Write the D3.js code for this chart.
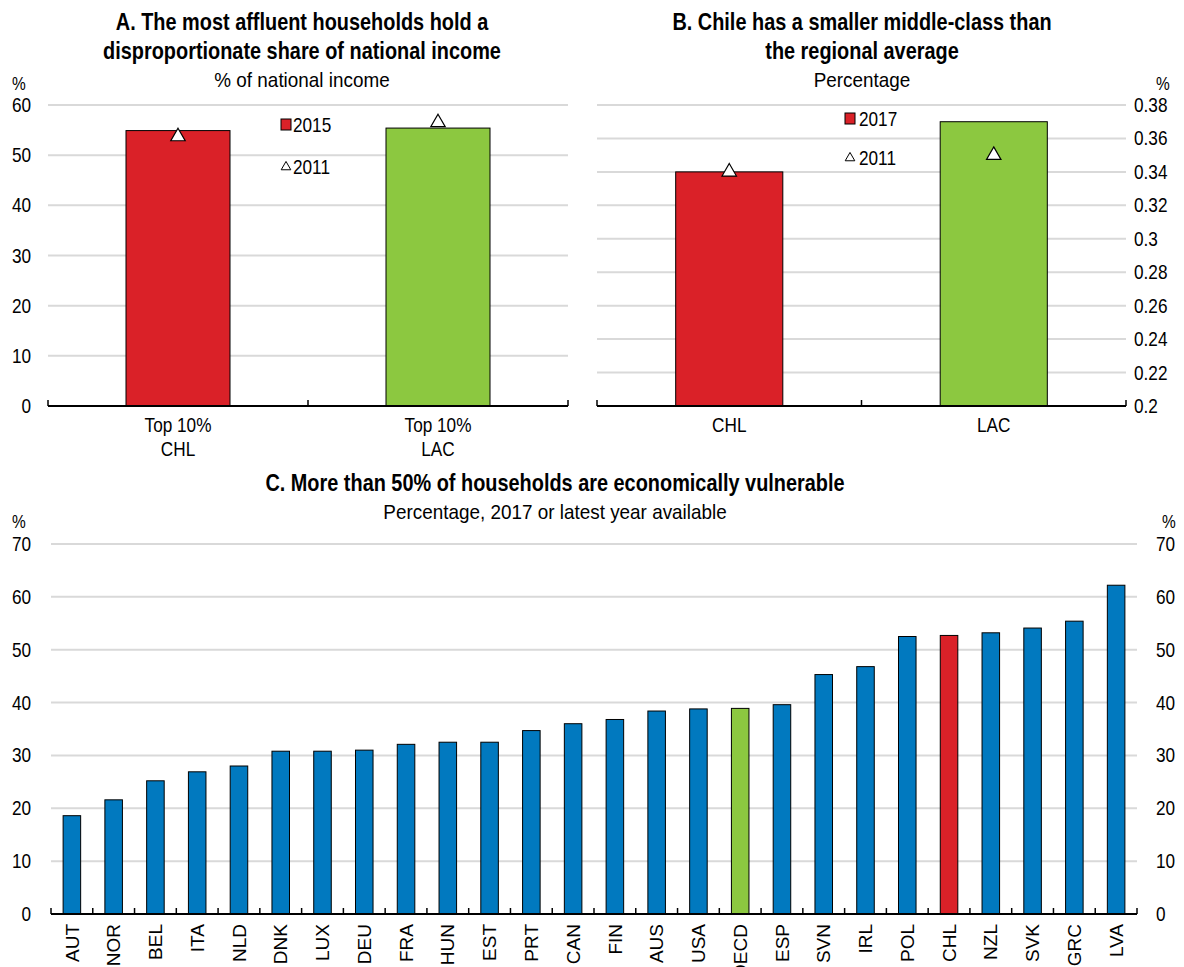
<!DOCTYPE html>
<html>
<head>
<meta charset="utf-8">
<script src="https://cdn.jsdelivr.net/npm/d3@7"></script>
<style>
  html, body { margin: 0; padding: 0; background: #fff; }
  svg text { font-family: "Liberation Sans Narrow", "Arial Narrow", "Liberation Sans", Arial, sans-serif; fill: #000; }
</style>
</head>
<body>
<svg id="chart" width="1184" height="967"></svg>
<script>
// Panel A: share of national income held by the top 10%
const catsA = ["Top 10%|CHL", "Top 10%|LAC"];
const valsA2015 = [54.9, 55.4];
const valsA2011 = [53.7, 56.5];
const ticksA = [0, 10, 20, 30, 40, 50, 60];

// Panel B: middle-class share
const catsB = ["CHL", "LAC"];
const valsB2017 = [0.34, 0.37];
const valsB2011 = [0.34, 0.35];
const ticksB = [0.2, 0.22, 0.24, 0.26, 0.28, 0.3, 0.32, 0.34, 0.36, 0.38];

// Panel C: economically vulnerable households
const catsC = ["AUT","NOR","BEL","ITA","NLD","DNK","LUX","DEU","FRA","HUN","EST","PRT","CAN",
               "FIN","AUS","USA","OECD","ESP","SVN","IRL","POL","CHL","NZL","SVK","GRC","LVA"];
const valsC = [18.6, 21.6, 25.2, 26.9, 28.0, 30.8, 30.8, 31.0, 32.1, 32.5, 32.5, 34.7, 36.0,
               36.8, 38.4, 38.8, 38.9, 39.6, 45.3, 46.8, 52.5, 52.7, 53.2, 54.1, 55.4, 62.2];
const ticksC = [0, 10, 20, 30, 40, 50, 60, 70];

const BLUE = "#0179bf", RED = "#da2128", GREEN = "#8cc840", GRID = "#d9d9d9";
const FS = 20, SX = 0.86;

const svg = d3.select("#chart");

// Condensed text: a horizontally squeezed group anchored at (x, y)
function ntext(parent, x, y, str, opt = {}) {
  const g = parent.append("g")
    .attr("transform", `translate(${x},${y}) scale(${opt.sx || SX},1)`);
  g.append("text")
    .attr("text-anchor", opt.anchor || "start")
    .attr("dy", opt.dy || null)
    .attr("font-size", opt.size || FS)
    .attr("font-weight", opt.bold ? "bold" : null)
    .text(str);
  return g;
}

function gridlines(g, y, ticks, x0, x1) {
  g.selectAll("line.grid").data(ticks).join("line")
    .attr("class", "grid")
    .attr("x1", x0).attr("x2", x1)
    .attr("y1", d => y(d)).attr("y2", d => y(d))
    .attr("stroke", GRID).attr("stroke-width", 2);
}

function baseline(g, x, y0, x0, x1) {
  g.append("line").attr("x1", x0).attr("x2", x1).attr("y1", y0).attr("y2", y0)
    .attr("stroke", "#000").attr("stroke-width", 2);
  const bounds = x.domain().map(d => x(d)).concat([x1]);
  g.selectAll("line.tk").data(bounds).join("line")
    .attr("class", "tk")
    .attr("x1", d => d).attr("x2", d => d)
    .attr("y1", y0).attr("y2", y0 - 6)
    .attr("stroke", "#000").attr("stroke-width", 1.5);
}

function yLabels(g, y, ticks, xpos, anchor, fmt) {
  ticks.forEach(t => ntext(g, xpos, y(t), fmt(t), { anchor, dy: "0.35em" }));
}

function titles(lines, sub, cx, y0) {
  lines.forEach((t, i) => ntext(svg, cx, y0 + i * 29, t, { anchor: "middle", size: 23, bold: true, sx: 0.865 }));
  ntext(svg, cx, y0 + lines.length * 29 - 1, sub, { anchor: "middle", size: 21, sx: 0.9 });
}

const tri = d3.symbol().type(d3.symbolTriangle);

// ---------- Panel A ----------
{
  const x0 = 48, x1 = 568;
  const x = d3.scaleBand().domain(catsA).range([x0, x1]).padding(0);
  const y = d3.scaleLinear().domain([0, 60]).range([406, 105]);
  const g = svg.append("g");
  gridlines(g, y, ticksA.filter(d => d > 0), x0, x1);
  const bw = x.bandwidth() * 0.4;
  g.selectAll("rect.bar").data(catsA).join("rect")
    .attr("x", d => x(d) + (x.bandwidth() - bw) / 2)
    .attr("width", bw)
    .attr("y", (d, i) => y(valsA2015[i]))
    .attr("height", (d, i) => y(0) - y(valsA2015[i]))
    .attr("fill", (d, i) => i === 0 ? RED : GREEN)
    .attr("stroke", "#000").attr("stroke-width", 1);
  g.selectAll("path.m").data(catsA).join("path")
    .attr("d", tri.size(90))
    .attr("transform", (d, i) => `translate(${x(d) + x.bandwidth() / 2},${y(valsA2011[i])})`)
    .attr("fill", "#fff").attr("stroke", "#000").attr("stroke-width", 1.2);
  baseline(g, x, y(0), x0, x1);
  yLabels(g, y, ticksA, 31, "end", d => d);
  ntext(g, 12, 90, "%", { size: 18 });
  catsA.forEach(c => {
    c.split("|").forEach((p, j) => {
      ntext(g, x(c) + x.bandwidth() / 2, 432 + j * 24, p, { anchor: "middle" });
    });
  });
  // legend
  g.append("rect").attr("x", 281).attr("y", 119).attr("width", 10).attr("height", 11)
    .attr("fill", RED).attr("stroke", "#000").attr("stroke-width", 1);
  ntext(g, 293, 132, "2015");
  g.append("path").attr("d", tri.size(40)).attr("transform", "translate(286,167)")
    .attr("fill", "#fff").attr("stroke", "#000").attr("stroke-width", 1);
  ntext(g, 293, 174, "2011");
  titles(["A. The most affluent households hold a", "disproportionate share of national income"],
    "% of national income", 302, 30);
}

// ---------- Panel B ----------
{
  const x0 = 597, x1 = 1126;
  const x = d3.scaleBand().domain(catsB).range([x0, x1]).padding(0);
  const y = d3.scaleLinear().domain([0.2, 0.38]).range([406, 105]);
  const g = svg.append("g");
  gridlines(g, y, ticksB.filter(d => d > 0.2), x0, x1);
  const bw = x.bandwidth() * 0.405;
  g.selectAll("rect.bar").data(catsB).join("rect")
    .attr("x", d => x(d) + (x.bandwidth() - bw) / 2)
    .attr("width", bw)
    .attr("y", (d, i) => y(valsB2017[i]))
    .attr("height", (d, i) => y(0.2) - y(valsB2017[i]))
    .attr("fill", (d, i) => i === 0 ? RED : GREEN)
    .attr("stroke", "#000").attr("stroke-width", 1);
  g.selectAll("path.m").data(catsB).join("path")
    .attr("d", tri.size(90))
    .attr("transform", (d, i) => `translate(${x(d) + x.bandwidth() / 2},${y(valsB2011[i])})`)
    .attr("fill", "#fff").attr("stroke", "#000").attr("stroke-width", 1.2);
  baseline(g, x, y(0.2), x0, x1);
  yLabels(g, y, ticksB, 1134, "start", d => d3.format("")(d));
  ntext(g, 1156, 90, "%", { size: 18 });
  catsB.forEach(c => {
    ntext(g, x(c) + x.bandwidth() / 2, 432, c, { anchor: "middle" });
  });
  g.append("rect").attr("x", 845).attr("y", 113).attr("width", 10).attr("height", 11)
    .attr("fill", RED).attr("stroke", "#000").attr("stroke-width", 1);
  ntext(g, 859, 126, "2017");
  g.append("path").attr("d", tri.size(40)).attr("transform", "translate(850,158)")
    .attr("fill", "#fff").attr("stroke", "#000").attr("stroke-width", 1);
  ntext(g, 859, 165, "2011");
  titles(["B. Chile has a smaller middle-class than", "the regional average"],
    "Percentage", 862, 30);
}

// ---------- Panel C ----------
{
  const x0 = 51, x1 = 1137;
  const x = d3.scaleBand().domain(catsC).range([x0, x1]).padding(0);
  const y = d3.scaleLinear().domain([0, 70]).range([914, 544]);
  const g = svg.append("g");
  gridlines(g, y, ticksC.filter(d => d > 0), x0, x1);
  const bw = x.bandwidth() * 0.42;
  g.selectAll("rect.bar").data(catsC).join("rect")
    .attr("x", d => x(d) + (x.bandwidth() - bw) / 2)
    .attr("width", bw)
    .attr("y", (d, i) => y(valsC[i]))
    .attr("height", (d, i) => y(0) - y(valsC[i]))
    .attr("fill", d => d === "CHL" ? RED : d === "OECD" ? GREEN : BLUE)
    .attr("stroke", "#000").attr("stroke-width", 1);
  baseline(g, x, y(0), x0, x1);
  yLabels(g, y, ticksC, 31, "end", d => d);
  yLabels(g, y, ticksC, 1156, "start", d => d);
  ntext(g, 12, 528, "%", { size: 18 });
  ntext(g, 1162, 528, "%", { size: 18 });
  g.selectAll("text.xl").data(catsC).join("text")
    .attr("class", "xl")
    .attr("transform", d => `translate(${x(d) + x.bandwidth() / 2},${y(0) + 10}) rotate(-90)`)
    .attr("text-anchor", "end").attr("dy", "0.35em")
    .attr("font-size", 19).text(d => d);
  titles(["C. More than 50% of households are economically vulnerable"],
    "Percentage, 2017 or latest year available", 555, 491);
}
</script>
</body>
</html>
